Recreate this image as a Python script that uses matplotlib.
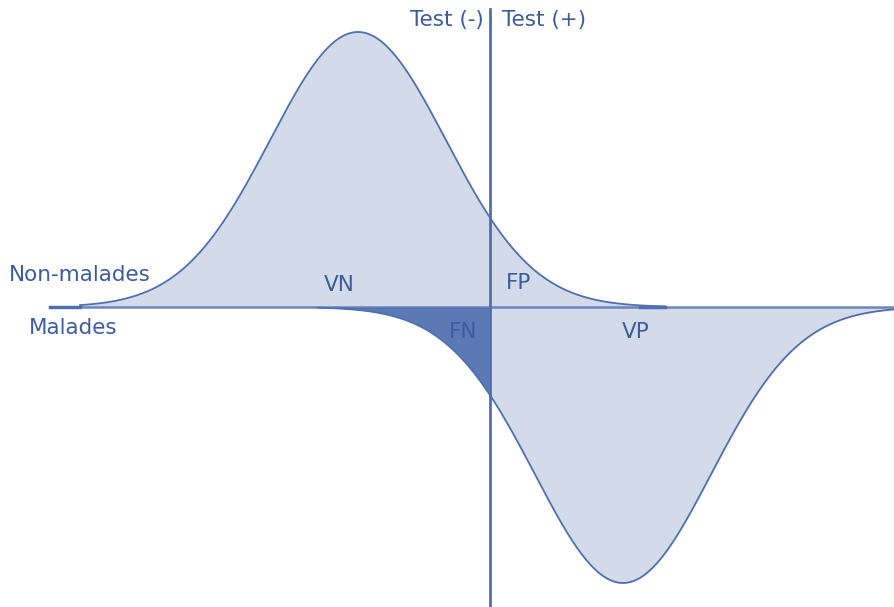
import numpy as np
import matplotlib.pyplot as plt

# Distribution parameters (pixel-like units)
groups = ["Non-malades", "Malades"]
means = [358, 623]
sigmas = [88, 88]
heights = [275, -276]          # peak above / trough below the baseline
x_ranges = [(80, 665), (318, 895)]
threshold = 490

region_labels = ["VN", "FP", "FN", "VP"]
region_x = [339, 519, 463, 636]
region_y = [22, 24, -25, -25]

line_col = "#4f6fb0"
fill_col = "#d3dbea"
dark_col = "#5b79b5"
text_col = "#3c5c9c"
fs = 15.5

fig = plt.figure(figsize=(8.95, 6.07), dpi=100)
ax = fig.add_axes([0, 0, 1, 1])

for m, s, h, (x0, x1) in zip(means, sigmas, heights, x_ranges):
    x = np.linspace(x0, x1, 400)
    y = h * np.exp(-(x - m) ** 2 / (2 * s ** 2))
    if h > 0:
        ax.fill_between(x, 0, y, color=fill_col, lw=0)
    else:
        ax.fill_between(x, 0, y, where=x >= threshold, color=fill_col, lw=0)
        ax.fill_between(x, 0, y, where=x <= threshold, color=dark_col, lw=0)
    ax.plot(x, y, color=line_col, lw=1.3)

# baseline and threshold line
ax.plot([50, 895], [0, 0], color=line_col, lw=1.8, alpha=0.8)
ax.plot([50, 80], [0, 0], color=line_col, lw=2.5)
ax.plot([640, 665], [0, 0], color=line_col, lw=2.5)
ax.axvline(threshold, ymin=0, ymax=0.985, color=line_col, lw=2)

# labels
ax.text(9, 32, groups[0], color=text_col, fontsize=fs, ha="left", va="center")
ax.text(29, -21, groups[1], color=text_col, fontsize=fs, ha="left", va="center")
for lab, lx, ly in zip(region_labels, region_x, region_y):
    ax.text(lx, ly, lab, color=text_col, fontsize=fs, ha="center", va="center")
ax.text(484, 287, "Test (-)", color=text_col, fontsize=fs, ha="right", va="center")
ax.text(502, 287, "Test (+)", color=text_col, fontsize=fs, ha="left", va="center")

ax.set_xlim(0, 895)
ax.set_ylim(-300, 307)
ax.axis("off")

plt.savefig("out.png")
